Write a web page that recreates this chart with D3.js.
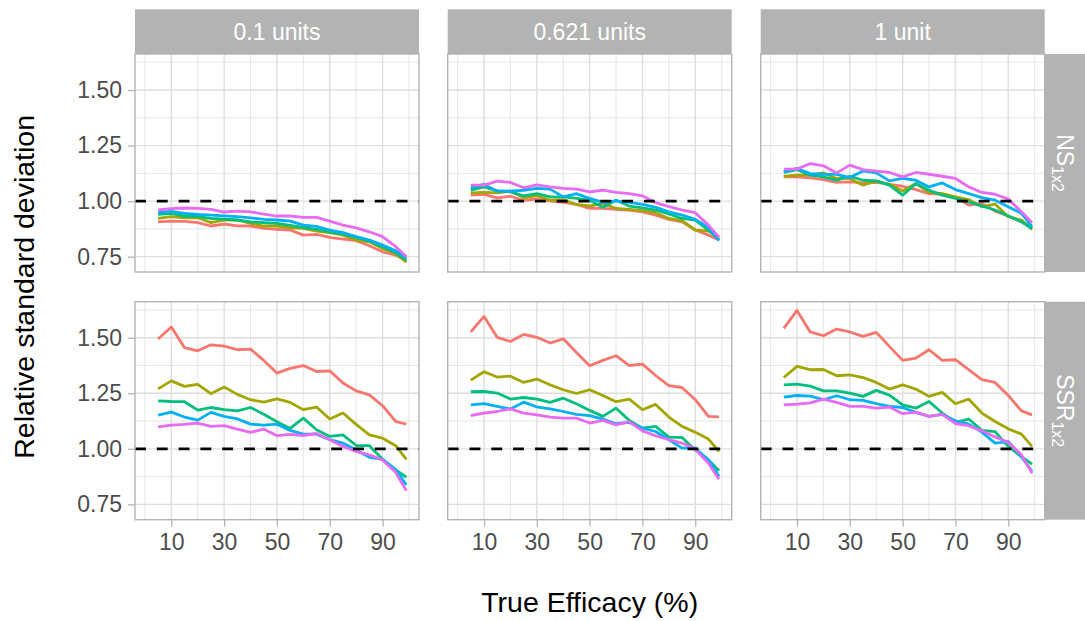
<!DOCTYPE html>
<html>
<head>
<meta charset="utf-8">
<script src="https://cdn.jsdelivr.net/npm/d3@7/dist/d3.min.js"></script>
<style>
  html, body { margin: 0; padding: 0; background: #ffffff; }
  svg { display: block; font-family: "Liberation Sans", Arial, Helvetica, sans-serif; }
</style>
</head>
<body>
<svg id="chart" width="1085" height="621"></svg>
<script>
// ---------------- DATA ----------------
const columnLabels = ["0.1 units", "0.621 units", "1 unit"];
const rowMain = ["NS", "SSR"];
const rowSub = ["1x2", "1x2"];
const efficacy = [5, 10, 15, 20, 25, 30, 35, 40, 45, 50, 55, 60, 65, 70, 75, 80, 85, 90, 95, 99];
const seriesNames = ["S1", "S2", "S3", "S4", "S5"];
const xTicks = [10, 30, 50, 70, 90];
const yTicks = [0.75, 1.00, 1.25, 1.50];
const referenceValue = 1;

// NS1x2 row, series S1..S5
const ns_0p1 = [
  [0.907,0.910,0.909,0.903,0.888,0.897,0.889,0.888,0.877,0.873,0.870,0.847,0.850,0.837,0.829,0.822,0.799,0.772,0.757,0.732],
  [0.922,0.930,0.925,0.925,0.903,0.915,0.915,0.900,0.888,0.888,0.880,0.877,0.865,0.858,0.847,0.825,0.817,0.787,0.765,0.725],
  [0.940,0.945,0.933,0.930,0.922,0.919,0.915,0.907,0.903,0.900,0.891,0.882,0.873,0.862,0.852,0.837,0.820,0.795,0.768,0.735],
  [0.948,0.954,0.945,0.940,0.937,0.934,0.930,0.925,0.918,0.915,0.910,0.892,0.886,0.870,0.858,0.840,0.825,0.802,0.777,0.743],
  [0.960,0.966,0.969,0.967,0.963,0.951,0.955,0.952,0.942,0.933,0.933,0.927,0.927,0.910,0.892,0.880,0.862,0.840,0.795,0.750]
];
const ns_0p621 = [
  [1.027,1.030,1.015,1.022,1.004,1.009,1.000,0.994,0.985,0.967,0.967,0.963,0.960,0.952,0.937,0.918,0.907,0.870,0.847,0.825],
  [1.037,1.039,1.037,1.046,1.016,1.024,1.004,1.007,0.985,0.978,0.990,0.967,0.963,0.957,0.948,0.922,0.912,0.870,0.865,0.840],
  [1.049,1.064,1.046,1.042,1.024,1.034,1.019,1.019,1.012,1.004,0.972,1.004,0.978,0.970,0.960,0.942,0.922,0.915,0.870,0.828],
  [1.060,1.075,1.045,1.045,1.049,1.057,1.054,1.019,1.034,1.012,0.994,1.001,0.994,0.985,0.972,0.952,0.937,0.918,0.882,0.822],
  [1.072,1.072,1.090,1.084,1.060,1.073,1.064,1.057,1.054,1.042,1.049,1.039,1.034,1.024,0.993,0.975,0.960,0.948,0.892,0.837]
];
const ns_1 = [
  [1.109,1.109,1.105,1.097,1.084,1.087,1.082,1.084,1.075,1.067,1.052,1.034,1.031,1.019,0.982,0.990,0.955,0.933,0.907,0.882],
  [1.112,1.117,1.117,1.127,1.102,1.102,1.072,1.090,1.076,1.046,1.079,1.039,1.034,1.019,1.007,0.975,0.987,0.930,0.915,0.873],
  [1.129,1.142,1.117,1.109,1.094,1.112,1.094,1.091,1.072,1.027,1.079,1.049,1.027,1.012,0.997,0.979,0.960,0.933,0.907,0.877],
  [1.132,1.147,1.124,1.121,1.120,1.106,1.136,1.127,1.091,1.102,1.094,1.064,1.082,1.052,1.034,1.016,1.004,0.975,0.945,0.885],
  [1.144,1.144,1.169,1.159,1.127,1.162,1.142,1.135,1.129,1.109,1.129,1.121,1.112,1.102,1.064,1.039,1.031,1.009,0.952,0.903]
];
// SSR1x2 row, series S1..S5
const ssr_0p1 = [
  [1.494,1.548,1.455,1.441,1.468,1.462,1.446,1.449,1.398,1.341,1.362,1.375,1.348,1.351,1.296,1.261,1.243,1.194,1.123,1.111],
  [1.270,1.306,1.281,1.290,1.248,1.278,1.245,1.221,1.210,1.225,1.209,1.176,1.188,1.134,1.161,1.110,1.063,1.048,1.014,0.953],
  [1.216,1.213,1.212,1.174,1.186,1.176,1.171,1.186,1.156,1.122,1.092,1.138,1.086,1.056,1.063,1.015,1.014,0.953,0.905,0.872],
  [1.152,1.165,1.143,1.129,1.164,1.146,1.135,1.111,1.107,1.111,1.083,1.066,1.066,1.041,1.026,0.995,0.962,0.953,0.905,0.838],
  [1.099,1.107,1.110,1.116,1.101,1.104,1.089,1.074,1.089,1.059,1.065,1.060,1.069,1.041,1.011,0.988,0.973,0.950,0.893,0.812]
];
const ssr_0p621 = [
  [1.526,1.596,1.502,1.483,1.515,1.502,1.476,1.495,1.434,1.374,1.398,1.419,1.375,1.381,1.330,1.284,1.276,1.221,1.146,1.144],
  [1.309,1.347,1.323,1.327,1.299,1.314,1.288,1.266,1.249,1.266,1.240,1.212,1.224,1.176,1.200,1.143,1.101,1.075,1.044,0.988],
  [1.257,1.258,1.251,1.224,1.231,1.224,1.209,1.228,1.203,1.173,1.146,1.183,1.128,1.093,1.101,1.053,1.051,0.995,0.950,0.901],
  [1.198,1.203,1.191,1.179,1.210,1.189,1.180,1.168,1.155,1.149,1.134,1.113,1.119,1.093,1.078,1.041,1.003,1.003,0.950,0.875],
  [1.150,1.161,1.168,1.180,1.161,1.153,1.143,1.138,1.138,1.116,1.128,1.108,1.122,1.081,1.059,1.041,1.026,0.998,0.935,0.863]
];
const ssr_1 = [
  [1.542,1.623,1.526,1.509,1.539,1.526,1.506,1.524,1.461,1.398,1.408,1.446,1.398,1.401,1.356,1.311,1.299,1.240,1.171,1.153],
  [1.321,1.371,1.356,1.357,1.329,1.333,1.321,1.299,1.269,1.288,1.269,1.236,1.254,1.203,1.224,1.161,1.123,1.090,1.066,1.011],
  [1.288,1.291,1.282,1.261,1.261,1.251,1.236,1.263,1.242,1.198,1.183,1.213,1.161,1.119,1.134,1.083,1.077,1.011,0.965,0.931],
  [1.233,1.240,1.237,1.221,1.239,1.221,1.218,1.203,1.191,1.186,1.164,1.146,1.155,1.126,1.111,1.075,1.026,1.033,0.965,0.898],
  [1.198,1.201,1.207,1.224,1.209,1.191,1.191,1.183,1.188,1.158,1.165,1.146,1.155,1.114,1.104,1.081,1.053,1.029,0.973,0.890]
];

const panelData = [
  [ns_0p1, ns_0p621, ns_1],
  [ssr_0p1, ssr_0p621, ssr_1]
];

// ---------------- STYLE / LAYOUT ----------------
const colors = ["#F8766D", "#A3A500", "#00BF7D", "#00B0F6", "#E76BF3"];
const panelX = [135, 447.7, 760.7];
const panelY = [54, 301.7];
const panelW = 284, panelH = 218;
const stripTop = 9.3;
const stripRightW = 41;
const FONT = "'Liberation Sans', Arial, Helvetica, sans-serif";

const svg = d3.select("#chart");
svg.append("rect").attr("width", 1085).attr("height", 621).attr("fill", "#ffffff");

const x = d3.scaleLinear().domain([-3.75, 103.8]).range([0, panelW]);
const y = d3.scaleLinear().domain([0.681, 1.6622]).range([panelH, 0]);

const minorX = [0, 20, 40, 60, 80, 100];
const minorY = [0.875, 1.125, 1.375, 1.625];

const line = d3.line().x((d, i) => x(efficacy[i])).y(d => y(d));

for (let r = 0; r < 2; r++) {
  for (let c = 0; c < 3; c++) {
    const g = svg.append("g").attr("transform", `translate(${panelX[c]},${panelY[r]})`);
    g.append("rect").attr("width", panelW).attr("height", panelH).attr("fill", "#ffffff");
    g.selectAll(".mx").data(minorX).enter().append("line")
      .attr("x1", d => x(d)).attr("x2", d => x(d)).attr("y1", 0).attr("y2", panelH)
      .attr("stroke", "#DEDEDE").attr("stroke-width", 0.75);
    g.selectAll(".my").data(minorY).enter().append("line")
      .attr("y1", d => y(d)).attr("y2", d => y(d)).attr("x1", 0).attr("x2", panelW)
      .attr("stroke", "#DEDEDE").attr("stroke-width", 0.75);
    g.selectAll(".Mx").data(xTicks).enter().append("line")
      .attr("x1", d => x(d)).attr("x2", d => x(d)).attr("y1", 0).attr("y2", panelH)
      .attr("stroke", "#DEDEDE").attr("stroke-width", 1.4);
    g.selectAll(".My").data(yTicks).enter().append("line")
      .attr("y1", d => y(d)).attr("y2", d => y(d)).attr("x1", 0).attr("x2", panelW)
      .attr("stroke", "#DEDEDE").attr("stroke-width", 1.4);
    panelData[r][c].forEach((vals, si) => {
      g.append("path").datum(vals)
        .attr("d", line)
        .attr("fill", "none")
        .attr("stroke", colors[si])
        .attr("stroke-width", 2.8)
        .attr("stroke-linejoin", "round")
        .attr("stroke-linecap", "butt")
        .attr("data-series", seriesNames[si]);
    });
    g.append("line")
      .attr("x1", 0).attr("x2", panelW)
      .attr("y1", y(referenceValue)).attr("y2", y(referenceValue))
      .attr("stroke", "#000000").attr("stroke-width", 2.7)
      .attr("stroke-dasharray", "10.9,10.9");
    g.append("rect").attr("width", panelW).attr("height", panelH)
      .attr("fill", "none").attr("stroke", "#B3B3B3").attr("stroke-width", 1.4);

    if (c === 0) {
      const ya = g.append("g").call(d3.axisLeft(y).tickValues(yTicks)
        .tickFormat(d3.format(".2f")).tickSize(7).tickPadding(6));
      ya.select(".domain").remove();
      ya.selectAll(".tick line").attr("stroke", "#B3B3B3").attr("stroke-width", 1.3);
      ya.selectAll(".tick text").attr("fill", "#4D4D4D").style("font-size", "23px")
        .style("font-family", FONT);
    }
    if (r === 1) {
      const xa = g.append("g").attr("transform", `translate(0,${panelH})`)
        .call(d3.axisBottom(x).tickValues(xTicks).tickSize(7).tickPadding(7));
      xa.select(".domain").remove();
      xa.selectAll(".tick line").attr("stroke", "#B3B3B3").attr("stroke-width", 1.3);
      xa.selectAll(".tick text").attr("fill", "#4D4D4D").style("font-size", "23px")
        .style("font-family", FONT);
    }
  }
}

// top strips
columnLabels.forEach((lab, c) => {
  svg.append("rect").attr("x", panelX[c]).attr("y", stripTop)
    .attr("width", panelW).attr("height", panelY[0] - stripTop).attr("fill", "#B3B3B3");
  svg.append("text").attr("x", panelX[c] + panelW / 2).attr("y", (stripTop + panelY[0]) / 2)
    .attr("dy", "0.36em").attr("text-anchor", "middle")
    .attr("fill", "#ffffff").style("font-size", "23px").text(lab);
});

// right strips
rowMain.forEach((m, r) => {
  const sx = panelX[2] + panelW;
  svg.append("rect").attr("x", sx).attr("y", panelY[r])
    .attr("width", stripRightW).attr("height", panelH).attr("fill", "#B3B3B3");
  const cx = sx + stripRightW / 2, cy = panelY[r] + panelH / 2;
  const t = svg.append("text")
    .attr("transform", `translate(${cx},${cy}) rotate(90)`)
    .attr("text-anchor", "middle").attr("dy", "0.36em")
    .attr("fill", "#ffffff").style("font-size", "23px");
  t.append("tspan").text(m);
  t.append("tspan").attr("dy", "0.3em").style("font-size", "16px").text(rowSub[r]);
});

// axis titles
svg.append("text")
  .attr("x", panelX[1] + panelW / 2).attr("y", 611.5)
  .attr("text-anchor", "middle").attr("fill", "#000000")
  .style("font-size", "28.5px").text("True Efficacy (%)");
svg.append("text")
  .attr("transform", `translate(34,${(panelY[0] + panelY[1] + panelH) / 2}) rotate(-90)`)
  .attr("text-anchor", "middle").attr("fill", "#000000")
  .style("font-size", "28.5px").text("Relative standard deviation");
</script>
</body>
</html>
